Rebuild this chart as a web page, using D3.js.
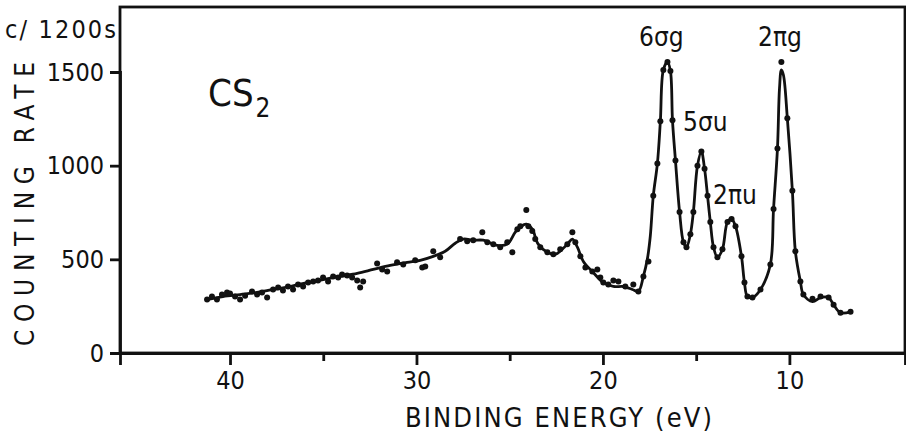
<!DOCTYPE html>
<html lang="en">
  <head>
    <meta charset="utf-8">
    <title>CS2 spectrum</title>
    <script src="https://d3js.org/d3.v7.js"></script>
    <style>
      body { margin: 0; background: #fff; }
      text { font-family: "DejaVu Sans Condensed", "DejaVu Sans", sans-serif; fill: #111; }
    </style>
  </head>
  <body>
  <script>

// smooth curve drawn through the spectrum (binding energy eV, counts per 1200 s)
var curveE = [41.23, 40.38, 39.46, 38.55, 37.69, 36.78, 35.87, 35.01, 34.10, 33.18,
  32.32, 31.41, 30.50, 29.80, 29.10, 28.46, 27.92, 27.49, 26.96, 26.42,
  25.67, 25.13, 24.70, 24.38, 24.11, 23.79, 23.47, 22.98, 22.55, 22.13,
  21.86, 21.64, 21.37, 21.05, 20.52, 19.98, 19.44, 18.91, 18.42, 18.10,
  17.83, 17.62, 17.46, 17.30, 17.08, 16.92, 16.76, 16.54, 16.38, 16.27,
  16.11, 15.89, 15.68, 15.52, 15.31, 15.15, 14.93, 14.72, 14.55, 14.39,
  14.24, 14.07, 13.86, 13.59, 13.32, 13.10, 12.89, 12.57, 12.41, 12.25,
  11.98, 11.55, 11.02, 10.85, 10.64, 10.53, 10.43, 10.32, 10.11, 9.84,
  9.68, 9.41, 9.25, 8.76, 8.33, 7.90, 7.63, 7.26, 6.72];
var curveV = [285, 301, 312, 323, 339, 355, 376, 392, 409, 425,
  446, 468, 484, 495, 516, 543, 586, 608, 602, 602,
  575, 581, 645, 677, 688, 661, 581, 538, 527, 559,
  586, 608, 565, 489, 430, 376, 355, 355, 339, 328,
  409, 500, 624, 839, 1011, 1237, 1511, 1554, 1505, 1242,
  1027, 753, 591, 565, 634, 753, 1000, 1075, 984, 839,
  699, 565, 511, 554, 699, 715, 677, 516, 376, 301,
  296, 339, 473, 769, 1091, 1414, 1511, 1484, 1253, 866,
  543, 382, 312, 274, 296, 296, 258, 215, 220];

// measured points
var dotE = [41.23, 40.97, 40.70, 40.43, 40.16, 40.00, 39.73, 39.46, 39.19, 38.82,
  38.55, 38.28, 38.01, 37.69, 37.42, 37.16, 36.89, 36.62, 36.35, 36.08,
  35.81, 35.54, 35.28, 35.01, 34.74, 34.47, 34.20, 33.99, 33.72, 33.45,
  33.18, 33.02, 32.86, 32.11, 31.84, 31.57, 31.04, 30.71, 30.07, 29.69,
  29.53, 29.10, 28.73, 27.66, 27.28, 26.96, 26.47, 26.20, 25.88, 25.51,
  25.13, 24.86, 24.59, 24.43, 24.11, 24.00, 23.79, 23.63, 23.36, 22.98,
  22.66, 22.29, 21.91, 21.64, 21.48, 21.21, 20.94, 20.57, 20.30, 20.14,
  19.98, 19.71, 19.44, 19.17, 18.80, 18.37, 18.10, 17.83, 17.56, 17.30,
  17.08, 16.92, 16.76, 16.54, 16.38, 16.27, 16.11, 15.89, 15.68, 15.52,
  15.31, 15.15, 14.93, 14.72, 14.55, 14.39, 14.24, 14.07, 13.86, 13.59,
  13.32, 13.10, 12.89, 12.57, 12.41, 12.25, 11.98, 11.55, 11.02, 10.85,
  10.64, 10.43, 10.11, 9.84, 9.68, 9.41, 9.25, 8.76, 8.33, 7.90,
  7.63, 7.26, 6.72];
var dotV = [285, 301, 285, 312, 323, 317, 301, 285, 306, 328,
  312, 323, 296, 339, 349, 333, 355, 339, 366, 355,
  376, 382, 387, 403, 382, 409, 403, 419, 414, 403,
  387, 349, 382, 478, 446, 435, 484, 473, 495, 457,
  462, 543, 511, 608, 597, 602, 645, 591, 581, 565,
  591, 538, 661, 677, 763, 677, 651, 608, 565, 538,
  527, 554, 581, 645, 591, 516, 457, 435, 446, 403,
  376, 366, 387, 382, 355, 366, 328, 409, 489, 839,
  1011, 1237, 1511, 1554, 1505, 1242, 1027, 753, 591, 565,
  634, 753, 1000, 1075, 984, 839, 699, 565, 511, 554,
  699, 715, 677, 516, 376, 301, 296, 339, 473, 769,
  1091, 1554, 1253, 866, 543, 382, 312, 290, 301, 296,
  258, 215, 220];

var xMajor = [40, 30, 20, 10];
var xMinor = [35, 25, 15];
var yTicks = [0, 500, 1000, 1500];

var peakNames = ["6σg", "5σu", "2πu", "2πg"];
var peakX = [639, 683, 713, 758];
var peakY = [46, 131, 204, 46];

var w = 906;
var h = 438;
var margin = {top: 7, right: 1, bottom: 85, left: 120};

var xScale = d3.scaleLinear()
    .domain([45.9, 3.8])
    .range([margin.left, w - margin.right]);

var yScale = d3.scaleLinear()
    .domain([0, 1500])
    .range([353, 72]);

var svg = d3.select("body")
  .append("svg")
    .attr("width", w)
    .attr("height", h);

svg.append("rect")
    .attr("x", 0)
    .attr("y", 0)
    .attr("width", w)
    .attr("height", h)
    .attr("fill", "white");

// frame
svg.append("rect")
    .attr("x", margin.left)
    .attr("y", margin.top)
    .attr("width", w - margin.right - margin.left)
    .attr("height", 353 - margin.top)
    .attr("fill", "none")
    .attr("stroke", "#111")
    .attr("stroke-width", 2.8);

// x axis, major and minor ticks
var xAxis = d3.axisBottom(xScale)
    .tickValues(xMajor)
    .tickSize(12)
    .tickPadding(6)
    .tickFormat(d3.format("d"));

var gx = svg.append("g")
    .attr("transform", "translate(0,353)")
    .call(xAxis);

svg.append("g")
    .attr("transform", "translate(0,353)")
    .call(d3.axisBottom(xScale).tickValues(xMinor).tickSize(8).tickFormat(""))
    .select(".domain").remove();

// y axis
var yAxis = d3.axisLeft(yScale)
    .tickValues(yTicks)
    .tickSize(10)
    .tickPadding(6)
    .tickFormat(d3.format("d"));

var gy = svg.append("g")
    .attr("transform", `translate(${margin.left},0)`)
    .call(yAxis);

gy.selectAll(".tick").filter(d => d === 0).select("line").remove();

svg.selectAll(".domain").attr("stroke", "#111").attr("stroke-width", 2.8);
svg.selectAll(".tick line").attr("stroke", "#111").attr("stroke-width", 2.8);
svg.selectAll(".tick text")
    .attr("font-size", 25)
    .attr("fill", "#111")
    .style("font-family", '"DejaVu Sans Condensed", "DejaVu Sans", sans-serif');

// spectrum line
var lineData = curveE.map((e, i) => [e, curveV[i]]);
var line = d3.line()
    .x(d => xScale(d[0]))
    .y(d => yScale(d[1]))
    .curve(d3.curveCatmullRom.alpha(0.5));

svg.append("path")
    .datum(lineData)
    .attr("d", line)
    .attr("fill", "none")
    .attr("stroke", "#111")
    .attr("stroke-width", 2.8)
    .attr("stroke-linejoin", "round");

var dotData = dotE.map((e, i) => [e, dotV[i]]);
svg.append("g")
  .selectAll("circle")
    .data(dotData)
  .enter().append("circle")
    .attr("cx", d => xScale(d[0]))
    .attr("cy", d => yScale(d[1]))
    .attr("r", 3)
    .attr("fill", "#111");

// labels
svg.append("text")
    .attr("x", 5)
    .attr("y", 38)
    .attr("font-size", 25)
    .attr("textLength", 111)
    .text("c/ 1200s");

svg.append("text")
    .attr("transform", "translate(34,204) rotate(-90)")
    .attr("text-anchor", "middle")
    .attr("font-size", 26)
    .attr("textLength", 284)
    .attr("lengthAdjust", "spacing")
    .text("COUNTING RATE");

svg.append("text")
    .attr("x", 405)
    .attr("y", 427)
    .attr("font-size", 27)
    .attr("textLength", 307)
    .attr("lengthAdjust", "spacing")
    .text("BINDING ENERGY (eV)");

var cs = svg.append("text")
    .attr("x", 208)
    .attr("y", 106)
    .attr("font-size", 38);
cs.append("tspan").text("CS");
cs.append("tspan").attr("font-size", 26).attr("dy", 11).attr("dx", 2).text("2");

svg.selectAll(".peak")
    .data(peakNames)
  .enter().append("text")
    .attr("class", "peak")
    .attr("x", (d, i) => peakX[i])
    .attr("y", (d, i) => peakY[i])
    .attr("font-size", 26)
    .text(d => d);

  </script>
  </body>
</html>
